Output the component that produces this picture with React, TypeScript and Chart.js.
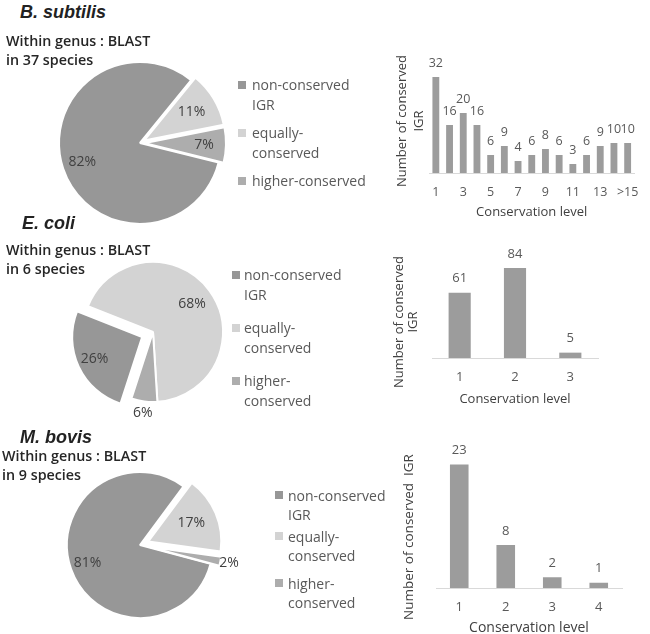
import React, { useEffect, useRef } from "react";
import { Chart, registerables } from "chart.js";

Chart.register(...registerables);

// ---------- data ----------
const pieCategories = ["non-conserved IGR", "equally-conserved", "higher-conserved"];
const subtilisShares = [82, 11, 7];
const coliShares = [26, 68, 6];
const bovisShares = [81, 17, 2];

const subtilisLegend = [["non-conserved", "IGR"], ["equally-", "conserved"], ["higher-conserved"]];
const coliLegend = [["non-conserved", "IGR"], ["equally-", "conserved"], ["higher-", "conserved"]];
const bovisLegend = [["non-conserved", "IGR"], ["equally-", "conserved"], ["higher-", "conserved"]];

const subtilisLevels = ["1", "2", "3", "4", "5", "6", "7", "8", "9", "10", "11", "12", "13", "14", ">15"];
const subtilisCounts = [32, 16, 20, 16, 6, 9, 4, 6, 8, 6, 3, 6, 9, 10, 10];
const coliLevels = ["1", "2", "3"];
const coliCounts = [61, 84, 5];
const bovisLevels = ["1", "2", "3", "4"];
const bovisCounts = [23, 8, 2, 1];

// ---------- styles ----------
const FONT = "'Open Sans', 'Noto Sans', sans-serif";
const sliceColors = ["#979797", "#d3d3d3", "#adadad"];
const barColor = "#9c9c9c";

// ---------- plugins ----------
const explodePlugin = {
  id: "explode",
  beforeDatasetDraw(chart: any, args: any, opts: any) {
    const amounts: number[] = opts.amounts || [];
    const ctx = chart.ctx;
    args.meta.data.forEach((arc: any, i: number) => {
      const t = amounts[i] || 0;
      const mid = (arc.startAngle + arc.endAngle) / 2;
      ctx.save();
      ctx.translate(Math.cos(mid) * t, Math.sin(mid) * t);
      arc.draw(ctx);
      ctx.restore();
    });
    return false;
  },
};

const pieValuePlugin = {
  id: "pieValues",
  afterDatasetsDraw(chart: any, _args: any, opts: any) {
    const ctx = chart.ctx;
    const meta = chart.getDatasetMeta(0);
    const values = chart.data.datasets[0].data;
    const explode: number[] = chart.options.plugins.explode.amounts || [];
    ctx.save();
    ctx.font = `${opts.size}px ${FONT}`;
    ctx.fillStyle = "#404040";
    ctx.textAlign = "center";
    ctx.textBaseline = "middle";
    meta.data.forEach((arc: any, i: number) => {
      const mid = (arc.startAngle + arc.endAngle) / 2;
      const r = arc.outerRadius * opts.radii[i] + (explode[i] || 0);
      ctx.fillText(values[i] + "%", arc.x + Math.cos(mid) * r, arc.y + Math.sin(mid) * r);
    });
    ctx.restore();
  },
};

const barValuePlugin = {
  id: "barValues",
  afterDatasetsDraw(chart: any, _args: any, opts: any) {
    const ctx = chart.ctx;
    const meta = chart.getDatasetMeta(0);
    const values = chart.data.datasets[0].data;
    ctx.save();
    ctx.font = `${opts.size}px ${FONT}`;
    ctx.fillStyle = "#595959";
    ctx.textAlign = "center";
    ctx.textBaseline = "middle";
    meta.data.forEach((bar: any, i: number) => {
      ctx.fillText(String(values[i]), bar.x, bar.y - opts.gap);
    });
    ctx.restore();
  },
};

// ---------- config builders ----------
function pieConfig(values: number[], rotation: number, radius: number, explode: number[], radii: number[]) {
  return {
    type: "pie",
    data: {
      labels: pieCategories,
      datasets: [
        {
          data: values,
          backgroundColor: sliceColors,
          borderColor: "#ffffff",
          borderWidth: 2,
        },
      ],
    },
    options: {
      responsive: false,
      animation: false,
      rotation,
      radius,
      layout: { padding: 0 },
      plugins: {
        legend: { display: false },
        tooltip: { enabled: false },
        explode: { amounts: explode },
        pieValues: { radii, size: 14 },
      },
    },
    plugins: [explodePlugin, pieValuePlugin],
  };
}

function barConfig(
  labels: string[],
  values: number[],
  opts: {
    max: number;
    pad: { left: number; right: number; top: number; bottom: number };
    barPct: number;
    tickSize: number;
    tickPad: number;
    titleSize: number;
    titlePad: number;
    every: number;
  }
) {
  return {
    type: "bar",
    data: {
      labels,
      datasets: [
        {
          data: values,
          backgroundColor: barColor,
          barPercentage: opts.barPct,
          categoryPercentage: 1,
        },
      ],
    },
    options: {
      responsive: false,
      animation: false,
      layout: { padding: opts.pad },
      plugins: {
        legend: { display: false },
        tooltip: { enabled: false },
        barValues: { size: opts.tickSize, gap: 14 },
      },
      scales: {
        y: { display: false, min: 0, max: opts.max },
        x: {
          grid: { display: false, drawTicks: false },
          border: { display: true, color: "#d9d9d9", width: 1 },
          ticks: {
            autoSkip: false,
            maxRotation: 0,
            padding: opts.tickPad,
            color: "#595959",
            font: { family: FONT, size: opts.tickSize },
            callback: (_v: any, i: number) => (i % opts.every === 0 ? labels[i] : ""),
          },
          title: {
            display: true,
            text: "Conservation level",
            color: "#404040",
            font: { family: FONT, size: opts.titleSize },
            padding: { top: opts.titlePad, bottom: 0 },
          },
        },
      },
    },
    plugins: [barValuePlugin],
  };
}

// ---------- components ----------
function ChartBox({ left, top, width, height, config }: any) {
  const ref = useRef<HTMLCanvasElement>(null);
  useEffect(() => {
    const chart = new Chart(ref.current as HTMLCanvasElement, config as any);
    return () => chart.destroy();
  }, []);
  return (
    <canvas
      ref={ref}
      width={width}
      height={height}
      style={{ position: "absolute", left, top, width, height }}
    />
  );
}

function Text({ x, cy, lh, size, children, style }: any) {
  return (
    <div
      style={{
        position: "absolute",
        left: x,
        top: cy - lh / 2,
        lineHeight: lh + "px",
        fontSize: size,
        fontFamily: FONT,
        whiteSpace: "pre",
        ...style,
      }}
    >
      {children}
    </div>
  );
}

function Heading({ x, cy, species, lines }: any) {
  return (
    <>
      <Text
        x={x.title}
        cy={cy.title}
        lh={22}
        size={18}
        style={{ fontFamily: "'Liberation Sans', Arial, sans-serif", fontWeight: 700, fontStyle: "italic", color: "#222" }}
      >
        {species}
      </Text>
      <Text x={x.sub} cy={cy.sub} lh={19} size={14.3} style={{ fontWeight: 600, color: "#262626" }}>
        {lines.join("\n")}
      </Text>
    </>
  );
}

function Legend({ sqX, textX, centers, items, spacing }: any) {
  return (
    <>
      {items.map((lines: string[], i: number) => (
        <React.Fragment key={i}>
          <div
            style={{
              position: "absolute",
              left: sqX,
              top: centers[i] - 4,
              width: 8,
              height: 8,
              background: sliceColors[i],
            }}
          />
          <Text x={textX} cy={centers[i]} lh={spacing} size={14} style={{ color: "#595959" }}>
            {lines.join("\n")}
          </Text>
        </React.Fragment>
      ))}
    </>
  );
}

function YTitle({ cx, cy, lh, size, text }: any) {
  return (
    <div
      style={{
        position: "absolute",
        left: cx,
        top: cy,
        transform: "translate(-50%, -50%) rotate(-90deg)",
        whiteSpace: "pre",
        textAlign: "center",
        lineHeight: lh + "px",
        fontSize: size,
        fontFamily: FONT,
        color: "#404040",
      }}
    >
      {text}
    </div>
  );
}

export default function App() {
  return (
    <div
      style={{
        position: "fixed",
        left: 0,
        top: 0,
        width: 650,
        height: 634,
        overflow: "hidden",
        background: "#ffffff",
      }}
    >
      {/* B. subtilis */}
      <ChartBox
        left={30}
        top={33}
        width={220}
        height={220}
        config={pieConfig(subtilisShares, 104, 81, [0, 5, 5], [0.75, 0.68, 0.73])}
      />
      <ChartBox
        left={380}
        top={30}
        width={270}
        height={190}
        config={barConfig(subtilisLevels, subtilisCounts, {
          max: 40,
          pad: { left: 49, right: 4, top: 23, bottom: 0.2 },
          barPct: 0.5,
          tickSize: 12.5,
          tickPad: 11.5,
          titleSize: 13,
          titlePad: -6.8,
          every: 2,
        })}
      />
      {/* E. coli */}
      <ChartBox
        left={43}
        top={222}
        width={220}
        height={220}
        config={pieConfig(coliShares, 198, 70, [12, 0, 0], [0.75, 0.69, 1.17])}
      />
      <ChartBox
        left={380}
        top={230}
        width={270}
        height={177}
        config={barConfig(coliLevels, coliCounts, {
          max: 100,
          pad: { left: 52, right: 52, top: 21, bottom: 0.2 },
          barPct: 0.4,
          tickSize: 13,
          tickPad: 11.2,
          titleSize: 13,
          titlePad: -4.8,
          every: 1,
        })}
      />
      {/* M. bovis */}
      <ChartBox
        left={30}
        top={435}
        width={220}
        height={220}
        config={pieConfig(bovisShares, 105, 73, [0, 9, 9], [0.76, 0.64, 1.12])}
      />
      <ChartBox
        left={380}
        top={410}
        width={270}
        height={227}
        config={barConfig(bovisLevels, bovisCounts, {
          max: 26,
          pad: { left: 56, right: 28, top: 38.4, bottom: 0.6 },
          barPct: 0.4,
          tickSize: 13,
          tickPad: 11.2,
          titleSize: 14,
          titlePad: -6.4,
          every: 1,
        })}
      />

      <Heading
        x={{ title: 20, sub: 6 }}
        cy={{ title: 12, sub: 40 }}
        species="B. subtilis"
        lines={["Within genus : BLAST", "in 37 species"]}
      />
      <Heading
        x={{ title: 22, sub: 6 }}
        cy={{ title: 223, sub: 249 }}
        species="E. coli"
        lines={["Within genus : BLAST", "in 6 species"]}
      />
      <Heading
        x={{ title: 20, sub: 2 }}
        cy={{ title: 437, sub: 455 }}
        species="M. bovis"
        lines={["Within genus : BLAST", "in 9 species"]}
      />

      <Legend sqX={238} textX={252} centers={[85, 133, 181]} items={subtilisLegend} spacing={20} />
      <Legend sqX={232} textX={244} centers={[275, 328, 381]} items={coliLegend} spacing={20} />
      <Legend sqX={275} textX={288} centers={[495, 536, 583]} items={bovisLegend} spacing={19} />

      <YTitle cx={409.5} cy={121} lh={17} size={13} text={"Number of conserved\nIGR"} />
      <YTitle cx={405} cy={322} lh={14} size={13} text={"Number of conserved\nIGR"} />
      <YTitle cx={408} cy={537} lh={16} size={13.5} text={"Number of conserved  IGR"} />
    </div>
  );
}
